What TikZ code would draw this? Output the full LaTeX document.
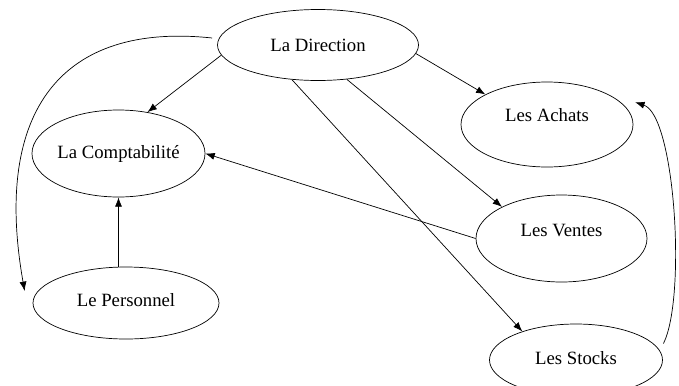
\documentclass[tikz,border=0pt]{standalone}
\usepackage{fontspec}
\setmainfont{Liberation Serif}
\usetikzlibrary{shapes.geometric, arrows.meta}
\tikzstyle{service}=[ellipse, draw=black, line width=0.6pt, inner sep=0pt, font=\fontsize{16}{19}\selectfont]
\tikzstyle{arrow}=[line width=0.6pt, -{Latex[length=8pt,width=6pt]}]

\begin{document}
\begin{tikzpicture}[x=0.03cm, y=-0.03cm]
		\useasboundingbox (0,0) rectangle (679,385);
		\node(direction)[service, minimum width=6.03cm, minimum height=2.13cm] at (318,45){La Direction};
		\node(compta)[service, minimum width=5.13cm, minimum height=2.61cm] at (118.5,153.5){La Comptabilit\'e};
		\node(achats)[service, minimum width=5.16cm, minimum height=2.55cm, text depth=16pt] at (547,124.5){Les Achats};
		\node(ventes)[service, minimum width=5.13cm, minimum height=2.61cm, text depth=14pt] at (561.5,238.5){Les Ventes};
		\node(personnel)[service, minimum width=5.58cm, minimum height=2.16cm, text depth=5pt] at (126,303){Le Personnel};
		\node(stocks)[service, minimum width=5.19cm, minimum height=2.16cm, text depth=3pt] at (576,360){Les Stocks};
		
		\draw[arrow](direction.186)--(compta.55);
		\draw[arrow](direction.355)--(achats.154);
		\draw[arrow](direction.310)--(ventes.152);
		\draw[arrow](direction.233)--(stocks.152);
		\draw[arrow](ventes.180)--(compta.0);
		\draw[arrow](compta.south |- personnel.north)--(compta.south);
		\draw[arrow]([shift={(-5,-7)}]direction.west) .. controls +(-150,-16) and +(-32,-181) .. ([shift={(-8,-12)}]personnel.west);
		\draw[arrow]([shift={(10,0)}]stocks.12) .. controls +(23,-46) and +(40,13) .. ([shift={(11,-3)}]achats.14);
	\end{tikzpicture}
\end{document}
